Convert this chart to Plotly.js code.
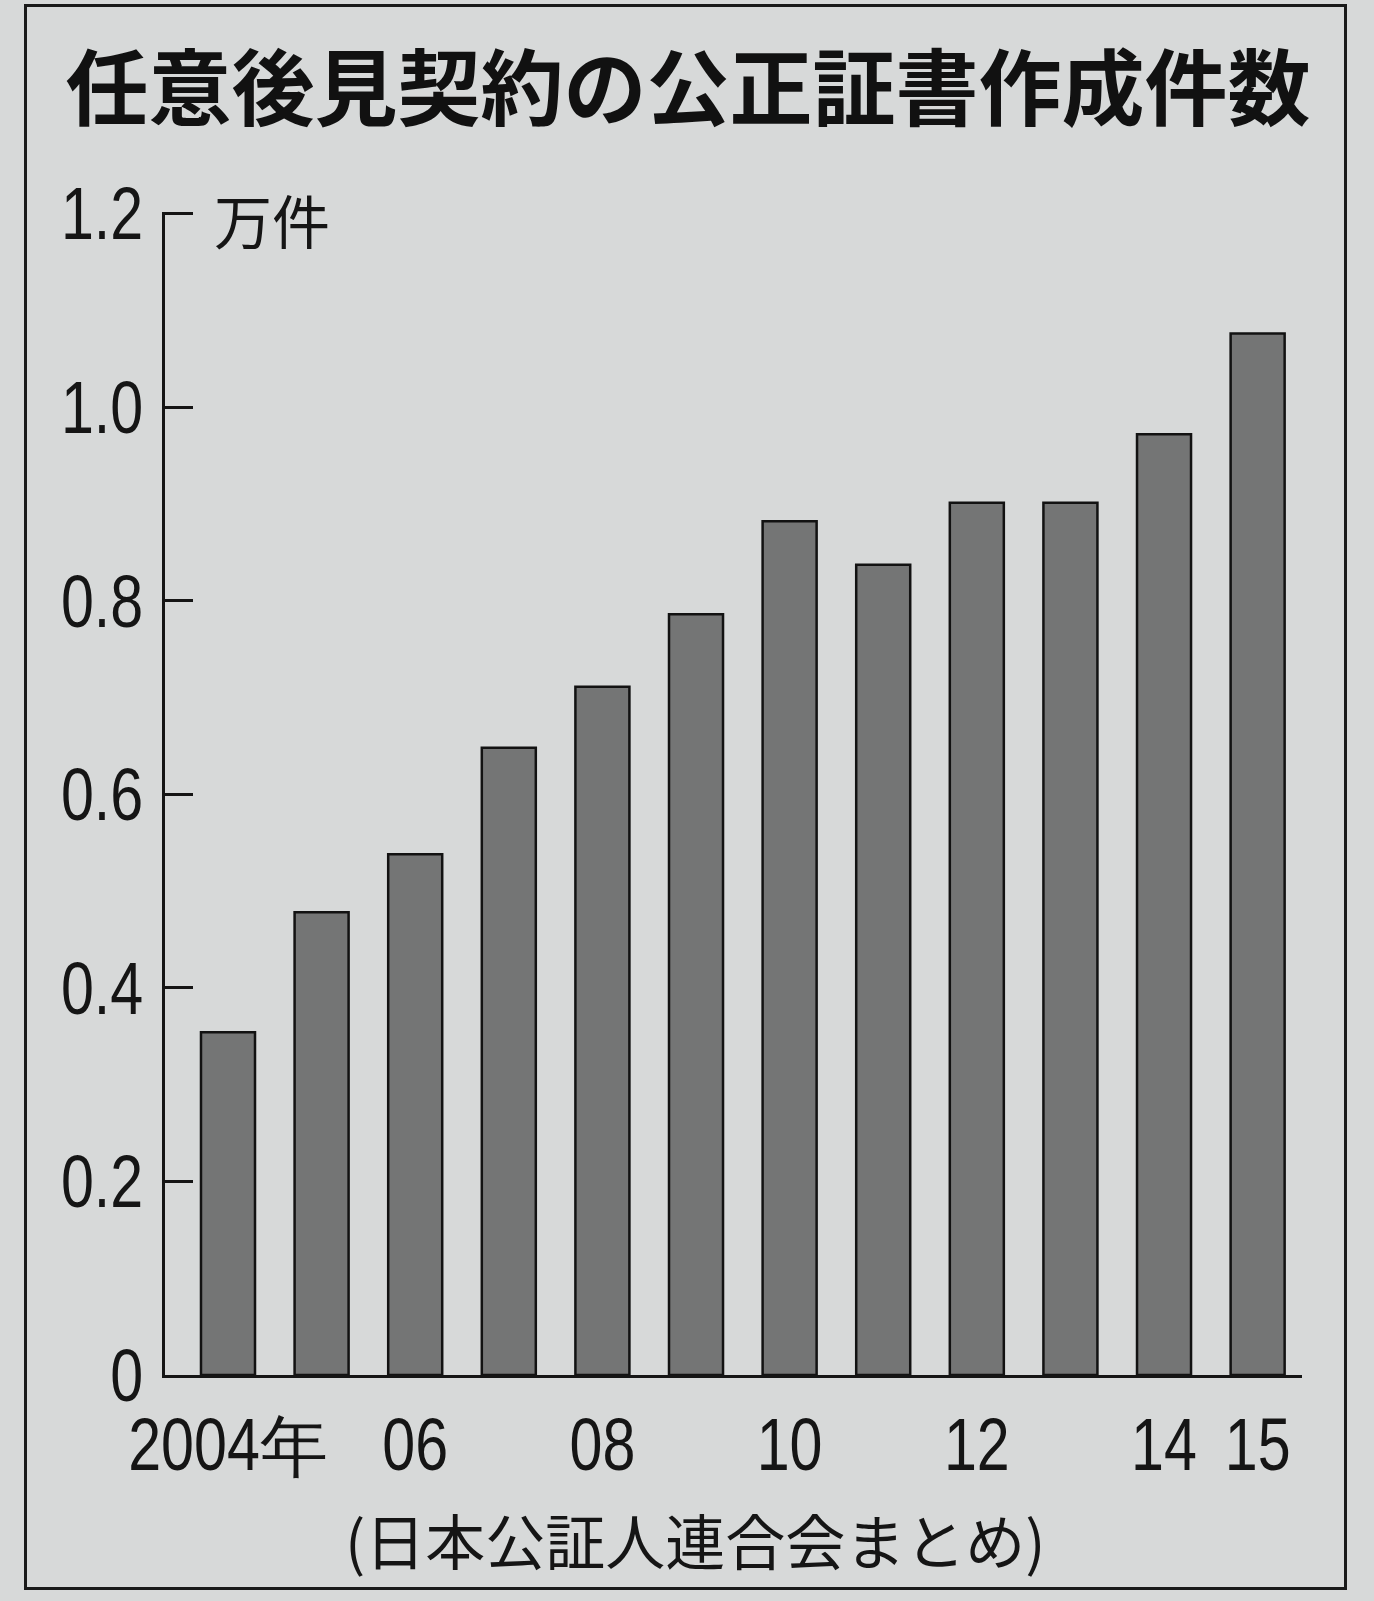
<!DOCTYPE html>
<html>
<head>
<meta charset="utf-8">
<script src="https://cdn.plot.ly/plotly-3.0.1.min.js"></script>
<style>
  html, body { margin: 0; padding: 0; background: #d7d9d9; }
  #wrap { position: relative; width: 1374px; height: 1601px; }
  #chart { position: absolute; left: 0; top: 0; width: 1374px; height: 1601px; }
  #frame {
    position: absolute; left: 24px; top: 4px; width: 1317px; height: 1580px;
    border: 3px solid #1a1a1a; pointer-events: none;
  }
</style>
</head>
<body>
<div id="wrap">
  <div id="chart"></div>
  <div id="frame"></div>
</div>
<script>
// 任意後見契約の公正証書作成件数（万件）
const years = [2004, 2005, 2006, 2007, 2008, 2009, 2010, 2011, 2012, 2013, 2014, 2015];
const counts = [0.354, 0.478, 0.538, 0.648, 0.711, 0.786, 0.882, 0.837, 0.901, 0.901, 0.972, 1.076];

const tickYears = [2004, 2006, 2008, 2010, 2012, 2014, 2015];
const tickLabels = ['2004年', '06', '08', '10', '12', '14', '15'];

const yTicks = [0, 0.2, 0.4, 0.6, 0.8, 1.0, 1.2];
const yTickLabels = ['0', '0.2', '0.4', '0.6', '0.8', '1.0', '1.2'];

const titleText = '任意後見契約の公正証書作成件数';
const unitText = '万件';
const sourceText = '(日本公証人連合会まとめ)';

const numFont = '"Liberation Sans", Arial, sans-serif';
const cjkFont = '"Noto Sans CJK JP", "Noto Sans", sans-serif';

// horizontal squeeze applied to the figures in tick labels (condensed numerals)
const tickSqueeze = 0.8;

const trace = {
  type: 'bar',
  x: years,
  y: counts,
  width: 0.577,
  marker: { color: '#747575', line: { color: '#121212', width: 2.5 } },
  hoverinfo: 'x+y'
};

const layout = {
  width: 1374,
  height: 1601,
  paper_bgcolor: '#d7d9d9',
  plot_bgcolor: 'rgba(0,0,0,0)',
  margin: { l: 165, r: 72, t: 212, b: 226 },
  showlegend: false,
  title: {
    text: titleText,
    xref: 'container', yref: 'container',
    x: 0.5007, y: 1 - 90 / 1601,
    xanchor: 'center', yanchor: 'middle',
    font: { family: cjkFont, size: 83, color: '#111', weight: 700 }
  },
  xaxis: {
    range: [2004 - 0.673, 2015 + 0.474],
    tickvals: tickYears,
    ticktext: tickLabels,
    ticks: '',
    showgrid: false,
    zeroline: false,
    showline: true,
    linecolor: '#151515',
    linewidth: 3,
    ticklabelstandoff: 3,
    tickfont: { family: numFont, size: 74, color: '#151515' },
    fixedrange: true
  },
  yaxis: {
    range: [0, 1.2015],
    tickvals: yTicks,
    ticktext: yTickLabels,
    ticks: 'inside',
    ticklen: 28,
    tickwidth: 3,
    tickcolor: '#151515',
    showgrid: false,
    zeroline: false,
    showline: true,
    linecolor: '#151515',
    linewidth: 3,
    ticklabelstandoff: 4,
    tickfont: { family: numFont, size: 74, color: '#151515' },
    fixedrange: true
  },
  annotations: [
    {
      text: unitText,
      xref: 'paper', yref: 'paper',
      x: 0.0413, y: (1375 - 219) / 1163,
      xanchor: 'left', yanchor: 'middle',
      showarrow: false,
      font: { family: cjkFont, size: 58, color: '#151515' }
    },
    {
      text: sourceText,
      xref: 'paper', yref: 'paper',
      x: (695 - 165) / 1137, y: (1375 - 1538) / 1163,
      xanchor: 'center', yanchor: 'middle',
      showarrow: false,
      font: { family: cjkFont, size: 60, color: '#151515' }
    }
  ]
};

// Squeeze the numeric part of each tick label; a trailing unit such as 年 keeps its width.
function condenseTickLabels(gd) {
  const ns = 'http://www.w3.org/2000/svg';
  gd.querySelectorAll('.xtick text, .ytick text').forEach(function (el) {
    const m = el.textContent.match(/^([0-9.]+)(.*)$/);
    if (!m) return;
    el.textContent = '';
    const num = document.createElementNS(ns, 'tspan');
    num.textContent = m[1];
    el.appendChild(num);
    if (m[2]) {
      const unit = document.createElementNS(ns, 'tspan');
      unit.textContent = m[2];
      unit.style.fontSize = '68px';
      el.appendChild(unit);
    }
    const w = num.getComputedTextLength();
    if (w > 0) {
      num.setAttribute('textLength', (w * tickSqueeze).toFixed(2));
      num.setAttribute('lengthAdjust', 'spacingAndGlyphs');
    }
  });
}

Plotly.newPlot('chart', [trace], layout, { staticPlot: true, displayModeBar: false })
  .then(condenseTickLabels);
</script>
</body>
</html>
